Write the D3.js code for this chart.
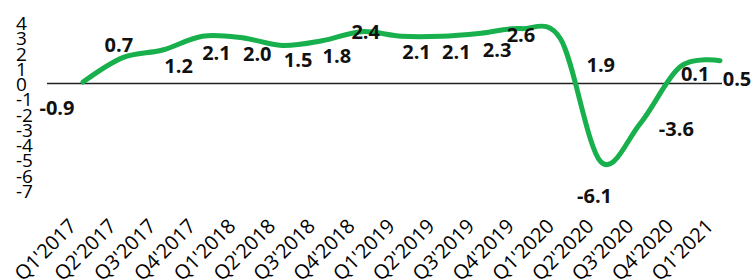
<!DOCTYPE html>
<html>
<head>
<meta charset="utf-8">
<script src="https://cdn.jsdelivr.net/npm/d3@7"></script>
<style>
  body { margin: 0; background: #fff; }
  svg { display: block; font-family: "Open Sans", sans-serif; }
</style>
</head>
<body>
<div id="chart"></div>
<script>
const width = 753;
const height = 279;

// quarters on the x axis
const quarters = ["Q1'2017", "Q2'2017", "Q3'2017", "Q4'2017", "Q1'2018", "Q2'2018", "Q3'2018", "Q4'2018",
  "Q1'2019", "Q2'2019", "Q3'2019", "Q4'2019", "Q1'2020", "Q2'2020", "Q3'2020", "Q4'2020", "Q1'2021"];
// height of the green line, read against the axis
const lineValues = [0.1, 1.7, 2.2, 3.1, 3.0, 2.5, 2.8, 3.4, 3.1, 3.1, 3.3, 3.6, 2.9, -5.1, -2.6, 1.1, 1.5];
// numbers printed next to the line
const labelValues = [-0.9, 0.7, 1.2, 2.1, 2.0, 1.5, 1.8, 2.4, 2.1, 2.1, 2.3, 2.6, 1.9, -6.1, -3.6, 0.1, 0.5];
const yTicks = [4, 3, 2, 1, 0, -1, -2, -3, -4, -5, -6, -7];

main();

function main() {
  const svg = d3.select("#chart").append("svg")
    .attr("width", width)
    .attr("height", height);

  const x = d3.scalePoint().domain(quarters).range([83, 720]);
  const y = d3.scaleLinear().domain([-7, 4]).range([190.5, 22.5]);

  // y tick labels, left aligned, no axis line
  svg.append("g")
    .selectAll("text")
    .data(yTicks)
    .join("text")
    .attr("x", 16)
    .attr("y", d => y(d) + 7.5)
    .attr("font-size", 19)
    .attr("fill", "#000")
    .text(d => d);

  // zero line
  svg.append("line")
    .attr("x1", 47).attr("x2", 722)
    .attr("y1", y(0)).attr("y2", y(0))
    .attr("stroke", "#222")
    .attr("stroke-width", 1.5);

  // x labels rotated
  svg.append("g")
    .selectAll("text")
    .data(quarters)
    .join("text")
    .attr("transform", d => `translate(${x(d) - 5.5},227.5) rotate(-45)`)
    .attr("text-anchor", "end")
    .attr("font-size", 20)
    .attr("fill", "#000")
    .text(d => d);

  const line = d3.line()
    .x((d, i) => x(quarters[i]))
    .y(d => y(d))
    .curve(d3.curveCardinal.tension(0));

  svg.append("path")
    .datum(lineValues)
    .attr("d", line)
    .attr("fill", "none")
    .attr("stroke", "#17b04c")
    .attr("stroke-width", 5)
    .attr("stroke-linecap", "round");

  // where each label sits relative to its point (dx, dy of text centre)
  const offsets = [[-26, 26], [-4, -13], [16, 16], [14, 17], [15, 16], [16, 15], [15, 15], [4, 0],
    [15, 16], [15, 16], [16, 17], [0, 6], [40, 26], [-6, 35], [36, 6], [15, 7], [17, 18]];

  svg.append("g")
    .selectAll("text")
    .data(labelValues)
    .join("text")
    .attr("x", (d, i) => x(quarters[i]) + offsets[i][0])
    .attr("y", (d, i) => y(lineValues[i]) + offsets[i][1] + 7)
    .attr("text-anchor", "middle")
    .attr("font-size", 20)
    .attr("font-weight", "bold")
    .attr("fill", "#111")
    .text(d => d.toFixed(1));
}
</script>
</body>
</html>
